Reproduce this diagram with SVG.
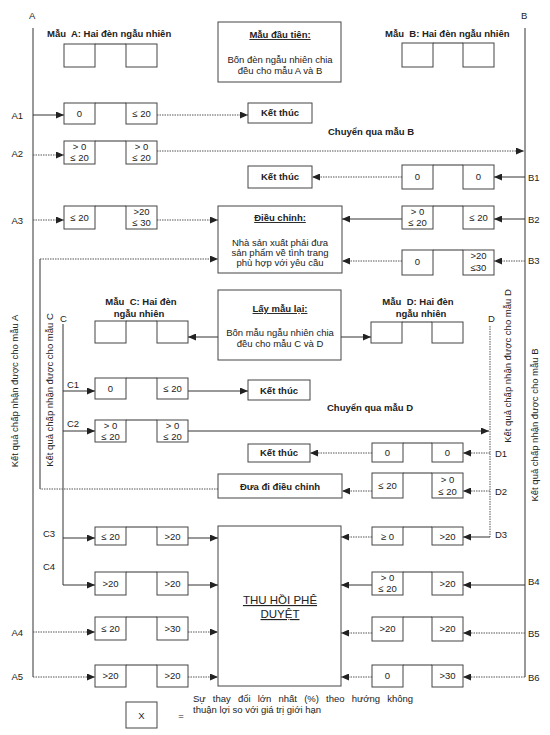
<svg xmlns="http://www.w3.org/2000/svg" width="550" height="735" viewBox="0 0 550 735">
<style>
text{font-family:"Liberation Sans",Arial,sans-serif;fill:#222;font-size:9.5px}
.c{text-anchor:middle}
.bd{font-weight:bold}
.u{text-decoration:underline}
.bx{fill:#fff;stroke:#444;stroke-width:1}
.s{stroke:#333;stroke-width:1;fill:none}
.d{stroke:#555;stroke-width:1;stroke-dasharray:1.5 1;fill:none}
.ax{stroke:#555;stroke-width:1.2;fill:none}
</style>
<defs>
<marker id="ar" markerUnits="userSpaceOnUse" markerWidth="8" markerHeight="7" refX="8" refY="3.5" orient="auto">
<path d="M0,0 L8,3.5 L0,7 z" fill="#222"/>
</marker>
</defs>
<rect width="550" height="735" fill="#fff"/>

<!-- axis lines and labels -->
<g id="axes">
<line class="ax" x1="33" y1="28" x2="33" y2="677"/>
<line class="ax" x1="525" y1="28" x2="525" y2="677"/>
<line class="s" x1="63" y1="324" x2="63" y2="585"/>
<line class="d" x1="490" y1="326" x2="490" y2="537"/>
<text x="29" y="19">A</text>
<text x="521" y="19">B</text>
<text x="60" y="322">C</text>
<text x="488" y="322">D</text>
<g style="text-anchor:end">
<text x="23" y="119">A1</text>
<text x="23" y="157">A2</text>
<text x="23" y="224">A3</text>
<text x="23" y="636">A4</text>
<text x="23" y="680">A5</text>
</g>
<text x="528" y="181">B1</text>
<text x="528" y="223">B2</text>
<text x="528" y="264">B3</text>
<text x="528" y="585">B4</text>
<text x="528" y="637">B5</text>
<text x="528" y="681">B6</text>
<text x="67" y="388">C1</text>
<text x="67" y="427">C2</text>
<text x="43" y="537">C3</text>
<text x="43" y="570">C4</text>
<text x="495" y="457">D1</text>
<text x="495" y="495">D2</text>
<text x="495" y="538">D3</text>
<text class="c" transform="translate(18,391) rotate(-90)">Kết quả chấp nhận được cho mẫu A</text>
<text class="c" transform="translate(53,390) rotate(-90)">Kết quả chấp nhận được cho mẫu C</text>
<text class="c" transform="translate(511,366) rotate(-90)">Kết quả chấp nhận được cho mẫu D</text>
<text class="c" transform="translate(538,425) rotate(-90)">Kết quả chấp nhận được cho mẫu B</text>
<text class="c bd" x="371" y="135">Chuyển qua mẫu B</text>
<text class="c bd" x="370" y="411">Chuyển qua mẫu D</text>
</g>

<!-- connectors -->
<g id="connectors">
<path class="s" d="M33,115 H64" marker-end="url(#ar)"/>
<path class="d" d="M157,115 H248" marker-end="url(#ar)"/>
<path class="d" d="M33,155 H64" marker-end="url(#ar)"/>
<path class="d" d="M157,151 H524" marker-end="url(#ar)"/>
<path class="d" d="M33,220 H64" marker-end="url(#ar)"/>
<path class="d" d="M157,220 H218" marker-end="url(#ar)"/>
<path class="s" d="M525,177 H494" marker-end="url(#ar)"/>
<path class="d" d="M402,177 H312" marker-end="url(#ar)"/>
<path class="s" d="M525,219 H494" marker-end="url(#ar)"/>
<path class="s" d="M402,219 H342" marker-end="url(#ar)"/>
<path class="d" d="M525,261 H494" marker-end="url(#ar)"/>
<path class="d" d="M402,261 H342" marker-end="url(#ar)"/>
<path class="d" d="M218,489 H40"/>
<path class="s" d="M40,489 V259"/>
<path class="d" d="M40,259 H218" marker-end="url(#ar)"/>
<path class="s" d="M218,337 H188" marker-end="url(#ar)"/>
<path class="s" d="M341,337 H371" marker-end="url(#ar)"/>
<path class="s" d="M63,391 H95" marker-end="url(#ar)"/>
<path class="s" d="M188,391 H248" marker-end="url(#ar)"/>
<path class="s" d="M63,431 H95" marker-end="url(#ar)"/>
<path class="s" d="M188,431 H489" marker-end="url(#ar)"/>
<path class="d" d="M490,453 H463" marker-end="url(#ar)"/>
<path class="d" d="M372,453 H310" marker-end="url(#ar)"/>
<path class="d" d="M490,491 H463" marker-end="url(#ar)"/>
<path class="d" d="M372,491 H342" marker-end="url(#ar)"/>
<path class="s" d="M490,537 H463" marker-end="url(#ar)"/>
<path class="d" d="M372,537 H341" marker-end="url(#ar)"/>
<path class="s" d="M63,538 H95" marker-end="url(#ar)"/>
<path class="s" d="M188,538 H218" marker-end="url(#ar)"/>
<path class="s" d="M63,585 H95" marker-end="url(#ar)"/>
<path class="s" d="M188,585 H218" marker-end="url(#ar)"/>
<path class="s" d="M525,585 H463" marker-end="url(#ar)"/>
<path class="s" d="M372,585 H341" marker-end="url(#ar)"/>
<path class="d" d="M33,632 H95" marker-end="url(#ar)"/>
<path class="d" d="M188,632 H218" marker-end="url(#ar)"/>
<path class="d" d="M33,677 H95" marker-end="url(#ar)"/>
<path class="d" d="M188,677 H218" marker-end="url(#ar)"/>
<path class="d" d="M525,633 H463" marker-end="url(#ar)"/>
<path class="d" d="M372,633 H341" marker-end="url(#ar)"/>
<path class="d" d="M525,677 H463" marker-end="url(#ar)"/>
<path class="d" d="M372,677 H341" marker-end="url(#ar)"/>
</g>

<!-- big boxes -->
<g id="mau-dau-tien">
<rect class="bx" x="218" y="22" width="123" height="60"/>
<text class="c bd u" x="280" y="38">Mẫu đầu tiên:</text>
<text class="c" x="280" y="63">Bốn đèn ngẫu nhiên chia</text>
<text class="c" x="280" y="74">đều cho mẫu A và B</text>
</g>
<g id="dieu-chinh">
<rect class="bx" x="218" y="206" width="124" height="67"/>
<text class="c bd u" x="280" y="221">Điều chỉnh:</text>
<text class="c" x="280" y="246">Nhà sản xuất phải đưa</text>
<text class="c" x="280" y="256">sản phẩm về tình trang</text>
<text class="c" x="280" y="266">phù hợp với yêu cầu</text>
</g>
<g id="lay-mau-lai">
<rect class="bx" x="218" y="290" width="123" height="70"/>
<text class="c bd u" x="280" y="312">Lấy mẫu lại:</text>
<text class="c" x="280" y="336">Bốn mẫu ngẫu nhiên chia</text>
<text class="c" x="280" y="347">đều cho mẫu C và D</text>
</g>
<g id="thu-hoi">
<rect class="bx" x="218" y="526" width="123" height="160"/>
<text class="c u" x="280" y="604" style="font-size:11.5px">THU HỒI PHÊ</text>
<text class="c u" x="280" y="618" style="font-size:11.5px">DUYỆT</text>
</g>
<g id="ket-thuc-1"><rect class="bx" x="248" y="103" width="64" height="20"/><text class="c bd" x="280" y="116">Kết thúc</text></g>
<g id="ket-thuc-2"><rect class="bx" x="248" y="166" width="64" height="22"/><text class="c bd" x="280" y="180">Kết thúc</text></g>
<g id="ket-thuc-3"><rect class="bx" x="248" y="380" width="62" height="20"/><text class="c bd" x="279" y="394">Kết thúc</text></g>
<g id="ket-thuc-4"><rect class="bx" x="248" y="444" width="62" height="18"/><text class="c bd" x="279" y="456">Kết thúc</text></g>
<g id="dua-di-dieu-chinh"><rect class="bx" x="218" y="474" width="124" height="24"/><text class="c bd" x="280" y="490">Đưa đi điều chỉnh</text></g>

<!-- sample labels -->
<g id="mau-a"><text class="bd" x="47" y="37">Mẫu&#160; A: Hai đèn ngẫu nhiên</text>
<rect class="bx" x="64" y="44" width="31" height="23"/><rect class="bx" x="126" y="44" width="31" height="23"/><line class="s" x1="95" y1="44" x2="126" y2="44"/></g>
<g id="mau-b"><text class="bd" x="385" y="37">Mẫu&#160; B: Hai đèn ngẫu nhiên</text>
<rect class="bx" x="402" y="43" width="31" height="24"/><rect class="bx" x="463" y="43" width="31" height="24"/><line class="s" x1="433" y1="43" x2="463" y2="43"/></g>
<g id="mau-c"><text class="c bd" x="141" y="305">Mẫu&#160; C: Hai đèn</text><text class="c bd" x="139" y="317">ngẫu nhiên</text>
<rect class="bx" x="95" y="321" width="31" height="22"/><rect class="bx" x="157" y="321" width="31" height="22"/><line class="s" x1="126" y1="321" x2="157" y2="321"/></g>
<g id="mau-d"><text class="c bd" x="418" y="305">Mẫu&#160; D: Hai đèn</text><text class="c bd" x="421" y="317">ngẫu nhiên</text>
<rect class="bx" x="371" y="322" width="31" height="21"/><rect class="bx" x="432" y="322" width="31" height="21"/><line class="s" x1="402" y1="322" x2="432" y2="322"/></g>

<!-- row pairs -->
<g id="row-a1"><rect class="bx" x="64" y="103" width="31" height="21"/><rect class="bx" x="126" y="103" width="31" height="21"/><line class="s" x1="95" y1="103" x2="126" y2="103"/>
<text class="c" x="79.5" y="117">0</text><text class="c" x="141.5" y="117">≤ 20</text></g>
<g id="row-a2"><rect class="bx" x="64" y="141" width="31" height="23"/><rect class="bx" x="126" y="141" width="31" height="23"/><line class="s" x1="95" y1="141" x2="126" y2="141"/>
<text class="c" x="79.5" y="150">&gt; 0</text><text class="c" x="79.5" y="161">≤ 20</text><text class="c" x="141.5" y="150">&gt; 0</text><text class="c" x="141.5" y="161">≤ 20</text></g>
<g id="row-a3"><rect class="bx" x="64" y="206" width="31" height="23"/><rect class="bx" x="126" y="206" width="31" height="23"/><line class="s" x1="95" y1="206" x2="126" y2="206"/>
<text class="c" x="79.5" y="221">≤ 20</text><text class="c" x="141.5" y="215">&gt;20</text><text class="c" x="141.5" y="226">≤ 30</text></g>
<g id="row-b1"><rect class="bx" x="402" y="165" width="31" height="24"/><rect class="bx" x="463" y="165" width="31" height="24"/><line class="s" x1="433" y1="165" x2="463" y2="165"/>
<text class="c" x="417.5" y="180">0</text><text class="c" x="478.5" y="180">0</text></g>
<g id="row-b2"><rect class="bx" x="402" y="206" width="31" height="23"/><rect class="bx" x="463" y="206" width="31" height="23"/><line class="s" x1="433" y1="206" x2="463" y2="206"/>
<text class="c" x="417.5" y="215">&gt; 0</text><text class="c" x="417.5" y="226">≤ 20</text><text class="c" x="478.5" y="221">≤ 20</text></g>
<g id="row-b3"><rect class="bx" x="402" y="250" width="31" height="25"/><rect class="bx" x="463" y="250" width="31" height="25"/><line class="s" x1="433" y1="250" x2="463" y2="250"/>
<text class="c" x="417.5" y="265">0</text><text class="c" x="478.5" y="259">&gt;20</text><text class="c" x="478.5" y="271">≤30</text></g>
<g id="row-c1"><rect class="bx" x="95" y="378" width="31" height="21"/><rect class="bx" x="157" y="378" width="31" height="21"/><line class="s" x1="126" y1="378" x2="157" y2="378"/>
<text class="c" x="110.5" y="392">0</text><text class="c" x="172.5" y="392">≤ 20</text></g>
<g id="row-c2"><rect class="bx" x="95" y="420" width="31" height="22"/><rect class="bx" x="157" y="420" width="31" height="22"/><line class="s" x1="126" y1="420" x2="157" y2="420"/>
<text class="c" x="110.5" y="429">&gt; 0</text><text class="c" x="110.5" y="440">≤ 20</text><text class="c" x="172.5" y="429">&gt; 0</text><text class="c" x="172.5" y="440">≤ 20</text></g>
<g id="row-d1"><rect class="bx" x="372" y="443" width="31" height="19"/><rect class="bx" x="432" y="443" width="31" height="19"/><line class="s" x1="403" y1="443" x2="432" y2="443"/>
<text class="c" x="387.5" y="456">0</text><text class="c" x="447.5" y="456">0</text></g>
<g id="row-d2"><rect class="bx" x="372" y="473" width="31" height="25"/><rect class="bx" x="432" y="473" width="31" height="25"/><line class="s" x1="403" y1="473" x2="432" y2="473"/>
<text class="c" x="387.5" y="489">≤ 20</text><text class="c" x="447.5" y="483">&gt; 0</text><text class="c" x="447.5" y="495">≤ 20</text></g>
<g id="row-d3"><rect class="bx" x="372" y="527" width="31" height="18"/><rect class="bx" x="432" y="527" width="31" height="18"/><line class="s" x1="403" y1="527" x2="432" y2="527"/>
<text class="c" x="387.5" y="540">≥ 0</text><text class="c" x="447.5" y="540">&gt;20</text></g>
<g id="row-c3"><rect class="bx" x="95" y="527" width="31" height="18"/><rect class="bx" x="157" y="527" width="31" height="18"/><line class="s" x1="126" y1="527" x2="157" y2="527"/>
<text class="c" x="110.5" y="540">≤ 20</text><text class="c" x="172.5" y="540">&gt;20</text></g>
<g id="row-c4"><rect class="bx" x="95" y="572" width="31" height="23"/><rect class="bx" x="157" y="572" width="31" height="23"/><line class="s" x1="126" y1="572" x2="157" y2="572"/>
<text class="c" x="110.5" y="587">&gt;20</text><text class="c" x="172.5" y="587">&gt;20</text></g>
<g id="row-b4"><rect class="bx" x="372" y="572" width="31" height="23"/><rect class="bx" x="432" y="572" width="31" height="23"/><line class="s" x1="403" y1="572" x2="432" y2="572"/>
<text class="c" x="387.5" y="581">&gt; 0</text><text class="c" x="387.5" y="592">≤ 20</text><text class="c" x="447.5" y="587">&gt;20</text></g>
<g id="row-a4"><rect class="bx" x="95" y="617" width="31" height="23"/><rect class="bx" x="157" y="617" width="31" height="23"/><line class="s" x1="126" y1="617" x2="157" y2="617"/>
<text class="c" x="110.5" y="632">≤ 20</text><text class="c" x="172.5" y="632">&gt;30</text></g>
<g id="row-b5"><rect class="bx" x="372" y="617" width="31" height="24"/><rect class="bx" x="432" y="617" width="31" height="24"/><line class="s" x1="403" y1="617" x2="432" y2="617"/>
<text class="c" x="387.5" y="632">&gt;20</text><text class="c" x="447.5" y="632">&gt;20</text></g>
<g id="row-a5"><rect class="bx" x="95" y="665" width="31" height="22"/><rect class="bx" x="157" y="665" width="31" height="22"/><line class="s" x1="126" y1="665" x2="157" y2="665"/>
<text class="c" x="110.5" y="679">&gt;20</text><text class="c" x="172.5" y="679">&gt;20</text></g>
<g id="row-b6"><rect class="bx" x="372" y="665" width="31" height="22"/><rect class="bx" x="432" y="665" width="31" height="22"/><line class="s" x1="403" y1="665" x2="432" y2="665"/>
<text class="c" x="387.5" y="679">0</text><text class="c" x="447.5" y="679">&gt;30</text></g>

<!-- legend -->
<g id="legend">
<rect class="bx" x="126" y="702" width="31" height="26"/>
<text class="c" x="141.5" y="719">X</text>
<text class="c" x="181" y="719">=</text>
<text x="193" y="702" style="word-spacing:4.5px">Sự thay đổi lớn nhất (%) theo hướng không</text>
<text x="193" y="713">thuận lợi so với giá trị giới hạn</text>
</g>
</svg>
